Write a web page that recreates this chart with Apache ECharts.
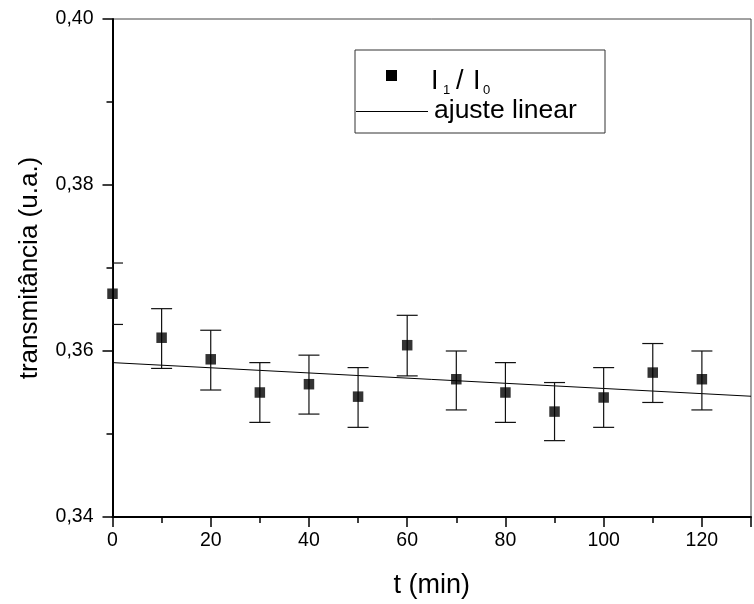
<!DOCTYPE html>
<html><head><meta charset="utf-8">
<script src="https://cdn.jsdelivr.net/npm/echarts@6/dist/echarts.min.js"></script>
<style>html,body{margin:0;padding:0;background:#fff}#c{width:754px;height:604px}</style>
</head><body><div id="c"></div>
<script>
var times = [0, 10, 20, 30, 40, 50, 60, 70, 80, 90, 100, 110, 120];
var ratio = [0.3669, 0.3616, 0.3590, 0.3550, 0.3560, 0.3545, 0.3607, 0.3566, 0.3550, 0.3527, 0.3544, 0.3574, 0.3566];
var errUp = [0.3706, 0.3651, 0.3625, 0.3586, 0.3595, 0.3580, 0.3643, 0.3600, 0.3586, 0.3562, 0.3580, 0.3609, 0.3600];
var errLow = [0.3632, 0.3579, 0.3553, 0.3514, 0.3524, 0.3508, 0.3570, 0.3529, 0.3514, 0.3492, 0.3508, 0.3538, 0.3529];
var fitX = [0, 130];
var fitY = [0.3586, 0.35455];
var xTicks = [0, 20, 40, 60, 80, 100, 120];
var yTicks = ['0,34', '0,36', '0,38', '0,40'];

var FONT = 'Liberation Sans, Arial, sans-serif';
var chart = echarts.init(document.getElementById('c'), null, {renderer: 'canvas'});
var points = times.map(function (t, i) { return [t, ratio[i]]; });
var bars = times.map(function (t, i) { return [t, errLow[i], errUp[i]]; });
var fit = fitX.map(function (x, i) { return [x, fitY[i]]; });

chart.setOption({
  animation: false,
  grid: {left: 112.5, top: 19, bottom: 83, right: -8, show: true, borderColor: '#444', borderWidth: 1, backgroundColor: 'transparent'},
  xAxis: {
    type: 'value', min: 0, max: 130, interval: 20,
    axisLine: {show: true, lineStyle: {color: '#000', width: 2}},
    axisTick: {show: true, inside: false, length: 10, lineStyle: {color: '#000', width: 1.5}},
    minorTick: {show: true, splitNumber: 2, length: 6, lineStyle: {color: '#000', width: 1.5}},
    splitLine: {show: false},
    axisLabel: {color: '#000', fontFamily: FONT, fontSize: 19.5, margin: 14,
      formatter: function (v) { return xTicks.indexOf(v) >= 0 ? String(v) : ''; }},
    name: 't (min)', nameLocation: 'middle', nameGap: 55,
    nameTextStyle: {color: '#000', fontFamily: FONT, fontSize: 27}
  },
  yAxis: {
    type: 'value', min: 0.34, max: 0.40, interval: 0.02,
    axisLine: {show: true, lineStyle: {color: '#000', width: 2}},
    axisTick: {show: true, inside: false, length: 10, lineStyle: {color: '#000', width: 1.5}},
    minorTick: {show: true, splitNumber: 2, length: 6, lineStyle: {color: '#000', width: 1.5}},
    splitLine: {show: false},
    axisLabel: {color: '#000', fontFamily: FONT, fontSize: 19.5, margin: 19,
      formatter: function (v) {
        var s = v.toFixed(2).replace('.', ',');
        return yTicks.indexOf(s) >= 0 ? s : '';
      }},
    name: 'transmitância (u.a.)', nameLocation: 'middle', nameGap: 70,
    nameTextStyle: {color: '#000', fontFamily: FONT, fontSize: 26}
  },
  series: [
    {
      type: 'line', data: fit, showSymbol: false, symbol: 'none', z: 2,
      lineStyle: {color: '#000', width: 1}, silent: true
    },
    {
      type: 'custom', data: bars, clip: true, z: 3,
      renderItem: function (params, api) {
        var x = api.value(0);
        var lo = api.coord([x, api.value(1)]);
        var hi = api.coord([x, api.value(2)]);
        var hw = 10.5;
        var st = {stroke: '#111', lineWidth: 1.2};
        return {type: 'group', children: [
          {type: 'line', shape: {x1: lo[0], y1: lo[1], x2: hi[0], y2: hi[1]}, style: st},
          {type: 'line', shape: {x1: hi[0] - hw, y1: hi[1], x2: hi[0] + hw, y2: hi[1]}, style: st},
          {type: 'line', shape: {x1: lo[0] - hw, y1: lo[1], x2: lo[0] + hw, y2: lo[1]}, style: st}
        ]};
      }
    },
    {
      type: 'scatter', data: points, symbol: 'rect', symbolSize: 10.5, clip: false, z: 4,
      itemStyle: {color: '#000'}
    }
  ],
  graphic: [
    {type: 'rect', shape: {x: 355, y: 50, width: 250, height: 83}, style: {fill: '#fff', stroke: '#333', lineWidth: 1}, z: 10},
    {type: 'rect', shape: {x: 386, y: 70, width: 11, height: 11}, style: {fill: '#000'}, z: 11},
    {type: 'text', x: 431, y: 82, z: 11, style: {text: 'I', fontFamily: FONT, fontSize: 27, fill: '#000', verticalAlign: 'middle'}},
    {type: 'text', x: 443, y: 90, z: 11, style: {text: '1', fontFamily: FONT, fontSize: 13, fill: '#000', verticalAlign: 'middle'}},
    {type: 'text', x: 456, y: 82, z: 11, style: {text: '/', fontFamily: FONT, fontSize: 27, fill: '#000', verticalAlign: 'middle'}},
    {type: 'text', x: 473, y: 82, z: 11, style: {text: 'I', fontFamily: FONT, fontSize: 27, fill: '#000', verticalAlign: 'middle'}},
    {type: 'text', x: 483, y: 90, z: 11, style: {text: '0', fontFamily: FONT, fontSize: 13, fill: '#000', verticalAlign: 'middle'}},
    {type: 'line', shape: {x1: 356, y1: 111.5, x2: 428, y2: 111.5}, style: {stroke: '#000', lineWidth: 1}, z: 11},
    {type: 'text', x: 434, y: 111, z: 11, style: {
      text: 'ajuste linear', fontFamily: FONT, fontSize: 26.5, fill: '#000', verticalAlign: 'middle'
    }}
  ]
});
</script></body></html>
